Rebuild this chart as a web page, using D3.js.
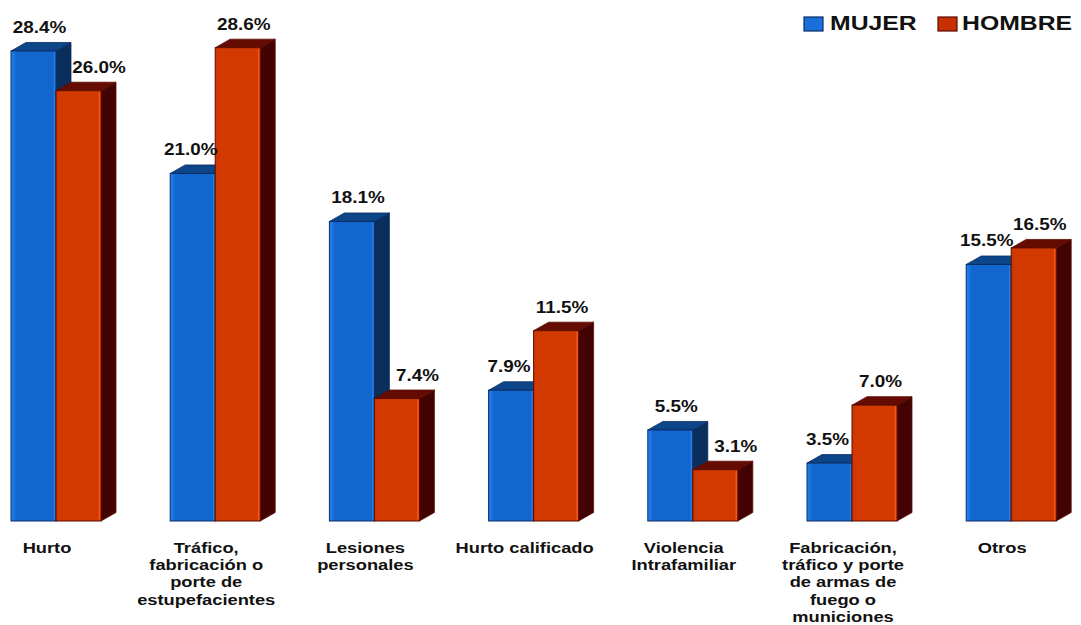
<!DOCTYPE html>
<html>
<head>
<meta charset="utf-8">
<script src="https://cdn.jsdelivr.net/npm/d3@7"></script>
<style>
  html, body { margin: 0; padding: 0; background: #fff; }
  svg { display: block; font-family: "Liberation Sans", Arial, sans-serif; }
</style>
</head>
<body>
<svg id="chart" width="1081" height="625"></svg>
<script>
// Delitos por sexo (porcentaje)
const categories = [
  "Hurto",
  "Tráfico, fabricación o porte de estupefacientes",
  "Lesiones personales",
  "Hurto calificado",
  "Violencia Intrafamiliar",
  "Fabricación, tráfico y porte de armas de fuego o municiones",
  "Otros"
];
const categoryLines = [
  ["Hurto"],
  ["Tráfico,", "fabricación o", "porte de", "estupefacientes"],
  ["Lesiones", "personales"],
  ["Hurto calificado"],
  ["Violencia", "Intrafamiliar"],
  ["Fabricación,", "tráfico y porte", "de armas de", "fuego o", "municiones"],
  ["Otros"]
];
const seriesNames = ["MUJER", "HOMBRE"];
const mujer  = [28.4, 21.0, 18.1, 7.9, 5.5, 3.5, 15.5];
const hombre = [26.0, 28.6, 7.4, 11.5, 3.1, 7.0, 16.5];

const svg = d3.select("#chart");

const baseY = 521;
const x0 = d3.scaleBand().domain(categories).range([11, 1056.2]).paddingInner(1 - 90 / 159.2).paddingOuter(0).align(0);
const x1 = d3.scaleBand().domain(seriesNames).range([0, x0.bandwidth()]).padding(0);
const y = d3.scaleLinear().domain([0, 30]).range([baseY, baseY - 16.55 * 30]);

const dx = 15, dy = 8.5;
const stretch = 1.18; // horizontal stretch applied to all text

const palette = {
  MUJER:  { front0: "#2186ee", front1: "#1466cf", side: "#0a2f5c", top: "#0d4688", edge: "#0a2c66", hi: "#4aa6ff" },
  HOMBRE: { front0: "#cf3500", front1: "#d23a02", side: "#440303", top: "#650b02", edge: "#5a0d00", hi: "#ff5a14" }
};

const defs = svg.append("defs");
seriesNames.forEach(s => {
  const g = defs.append("linearGradient").attr("id", "grad-" + s).attr("x1", "0%").attr("x2", "100%");
  g.append("stop").attr("offset", "0%").attr("stop-color", palette[s].front0);
  g.append("stop").attr("offset", "12%").attr("stop-color", palette[s].front1);
  g.append("stop").attr("offset", "100%").attr("stop-color", palette[s].front1);
});

const records = [];
categories.forEach((c, i) => {
  records.push({ cat: c, s: "MUJER", v: mujer[i], other: hombre[i] });
  records.push({ cat: c, s: "HOMBRE", v: hombre[i], other: mujer[i] });
});

const bars = svg.append("g").selectAll("g.bar").data(records).join("g").attr("class", "bar");

bars.each(function(d) {
  const g = d3.select(this);
  const p = palette[d.s];
  const xl = x0(d.cat) + x1(d.s);
  const xr = xl + x1.bandwidth();
  const yt = y(d.v);
  // side face
  g.append("path")
    .attr("d", `M${xr},${baseY} L${xr + dx},${baseY - dy} L${xr + dx},${yt - dy} L${xr},${yt} Z`)
    .attr("fill", p.side).attr("stroke", p.edge).attr("stroke-width", 0.8);
  // top face
  g.append("path")
    .attr("d", `M${xl},${yt} L${xl + dx},${yt - dy} L${xr + dx},${yt - dy} L${xr},${yt} Z`)
    .attr("fill", p.top).attr("stroke", p.edge).attr("stroke-width", 0.8);
  // front face
  g.append("rect")
    .attr("x", xl).attr("y", yt).attr("width", xr - xl).attr("height", baseY - yt)
    .attr("fill", `url(#grad-${d.s})`).attr("stroke", p.edge).attr("stroke-width", 1);
  // highlight on the front's right edge
  g.append("line")
    .attr("x1", xr - 1.5).attr("x2", xr - 1.5).attr("y1", yt + 1).attr("y2", baseY - 1)
    .attr("stroke", p.hi).attr("stroke-width", 1.5).attr("opacity", d.s === "HOMBRE" ? 0.9 : 0.35);
});

// value labels: centred over the bar, nudged clear of the neighbouring bar
const labelX = d => {
  const xl = x0(d.cat) + x1(d.s);
  const c = xl + x1.bandwidth() / 2;
  if (d.s === "HOMBRE" && d.other > d.v) return xl + dx + 5 + 23; // clear of the taller blue bar's side
  if (d.s === "MUJER" && d.other > d.v) return c - 2;
  return c + 6;
};
svg.append("g").selectAll("text").data(records).join("text")
  .attr("transform", d => `translate(${labelX(d)},${y(d.v) - 18}) scale(${stretch},1)`)
  .attr("text-anchor", "middle")
  .attr("font-size", 16).attr("font-weight", "bold").attr("fill", "#111")
  .text(d => d.v.toFixed(1) + "%");

// category labels
const catG = svg.append("g").selectAll("text").data(categories).join("text")
  .attr("text-anchor", "middle")
  .attr("font-size", 15.5).attr("font-weight", "bold").attr("fill", "#111")
  .attr("transform", d => `translate(${x0(d) + 36},553) scale(${stretch},1)`);
catG.each(function(d, i) {
  d3.select(this).selectAll("tspan").data(categoryLines[i]).join("tspan")
    .attr("x", 0).attr("y", (l, j) => j * 17.2).text(l => l);
});

// legend
const legend = svg.append("g");
const legendPos = [{ s: "MUJER", x: 804, tx: 830 }, { s: "HOMBRE", x: 938, tx: 962 }];
legendPos.forEach(l => {
  legend.append("rect").attr("x", l.x).attr("y", 17).attr("width", 19).attr("height", 14)
    .attr("fill", l.s === "MUJER" ? "#1a6fd8" : "#c83000").attr("stroke", palette[l.s].edge).attr("stroke-width", 1.2);
  legend.append("text").attr("transform", `translate(${l.tx},30) scale(${stretch},1)`)
    .attr("font-size", 21).attr("font-weight", "bold")
    .attr("fill", "#111").text(l.s);
});
</script>
</body>
</html>
